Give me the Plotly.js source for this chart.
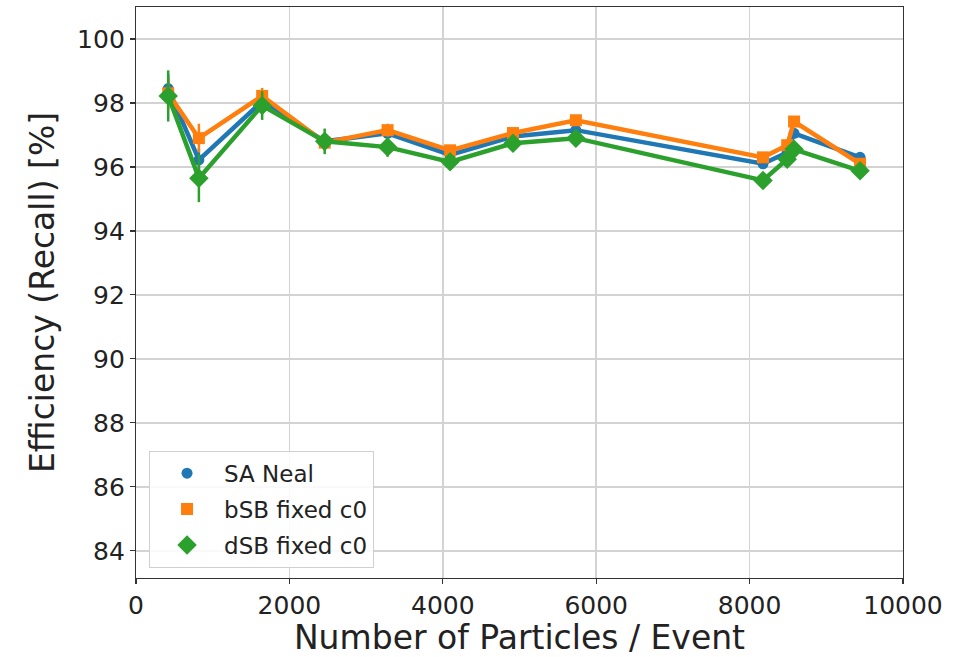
<!DOCTYPE html>
<html>
<head>
<meta charset="utf-8">
<script src="https://cdn.plot.ly/plotly-3.0.1.min.js"></script>
<style>
  html, body { margin: 0; padding: 0; background: #ffffff; }
  #chart { width: 976px; height: 657px; }
</style>
</head>
<body>
<div id="chart"></div>
<script>
// Particles per event for each sample
const particles = [420, 820, 1645, 2460, 3280, 4095, 4915, 5735, 8175, 8490, 8580, 9440];

// Efficiency (recall) in percent for each algorithm
const saNeal      = [98.45, 96.22, 98.05, 96.80, 97.05, 96.38, 96.95, 97.15, 96.10, 96.45, 97.05, 96.30];
const bsbFixedC0  = [98.30, 96.90, 98.22, 96.76, 97.15, 96.52, 97.06, 97.46, 96.30, 96.68, 97.42, 96.10];
const dsbFixedC0  = [98.22, 95.65, 97.92, 96.80, 96.62, 96.16, 96.74, 96.90, 95.58, 96.24, 96.55, 95.88];

// Statistical uncertainties
const saNealErr     = [0.45, 0.35, 0.25, 0.25, 0.20, 0.15, 0.15, 0.15, 0.15, 0.15, 0.15, 0.12];
const bsbFixedC0Err = [0.50, 0.45, 0.25, 0.25, 0.20, 0.15, 0.15, 0.15, 0.15, 0.15, 0.15, 0.12];
const dsbFixedC0Err = [0.80, 0.75, 0.45, 0.40, 0.30, 0.20, 0.15, 0.15, 0.15, 0.15, 0.15, 0.12];

const seriesNames = ["SA Neal", "bSB fixed c0", "dSB fixed c0"];
const colors = ["#1f77b4", "#ff7f0e", "#2ca02c"];
const symbols = ["circle", "square", "diamond"];
const sizes = [11, 12, 15];

const xTicks = [0, 2000, 4000, 6000, 8000, 10000];
const yTicks = [84, 86, 88, 90, 92, 94, 96, 98, 100];

const values = [saNeal, bsbFixedC0, dsbFixedC0];
const errors = [saNealErr, bsbFixedC0Err, dsbFixedC0Err];

const traces = [];
values.forEach((ys, i) => {
  traces.push({
    x: particles,
    y: ys,
    type: "scatter",
    mode: "lines+markers",
    name: seriesNames[i],
    showlegend: false,
    line: { color: colors[i], width: 4.5 },
    marker: { color: colors[i], symbol: symbols[i], size: sizes[i], line: { width: 0 } },
    error_y: { type: "data", array: errors[i], visible: true, color: colors[i], thickness: 2.5, width: 0 }
  });
});
// Legend entries: marker only, one group each so the rows are spaced apart
values.forEach((ys, i) => {
  traces.push({
    x: [null],
    y: [null],
    type: "scatter",
    mode: "markers",
    name: seriesNames[i],
    legendgroup: "g" + i,
    marker: { color: colors[i], symbol: symbols[i], size: sizes[i] }
  });
});

const font = "DejaVu Sans, Verdana, sans-serif";

const layout = {
  width: 976,
  height: 657,
  margin: { l: 136, r: 73, t: 7, b: 79 },
  paper_bgcolor: "#ffffff",
  plot_bgcolor: "#ffffff",
  font: { family: font, color: "#222222" },
  xaxis: {
    range: [0, 10000],
    tickvals: xTicks,
    ticktext: xTicks.map(String),
    ticks: "outside",
    ticklen: 5,
    tickwidth: 1.2,
    tickcolor: "#333333",
    tickfont: { size: 25, family: font, color: "#222222" },
    showgrid: true,
    gridcolor: "#d3d3d3",
    gridwidth: 1.5,
    zeroline: false,
    showline: true,
    linecolor: "#333333",
    linewidth: 1.2,
    mirror: true,
    title: { text: "Number of Particles / Event", font: { size: 33, family: font, color: "#222222" }, standoff: 4 }
  },
  yaxis: {
    range: [83.15, 101.0],
    tickvals: yTicks,
    ticktext: yTicks.map(String),
    ticks: "outside",
    ticklen: 5,
    tickwidth: 1.2,
    tickcolor: "#333333",
    tickfont: { size: 25, family: font, color: "#222222" },
    showgrid: true,
    gridcolor: "#d3d3d3",
    gridwidth: 1.5,
    zeroline: false,
    showline: true,
    linecolor: "#333333",
    linewidth: 1.2,
    mirror: true,
    title: { text: "Efficiency (Recall) [%]", font: { size: 33, family: font, color: "#222222" }, standoff: 12 }
  },
  legend: {
    x: 0.017,
    y: 0.018,
    xanchor: "left",
    yanchor: "bottom",
    bgcolor: "rgba(255,255,255,0.85)",
    bordercolor: "#d0d0d0",
    borderwidth: 1,
    font: { size: 23, family: font, color: "#222222" },
    itemwidth: 64,
    tracegroupgap: 3
  },
  showlegend: true
};

Plotly.newPlot("chart", traces, layout, { displayModeBar: false, staticPlot: true });
</script>
</body>
</html>
